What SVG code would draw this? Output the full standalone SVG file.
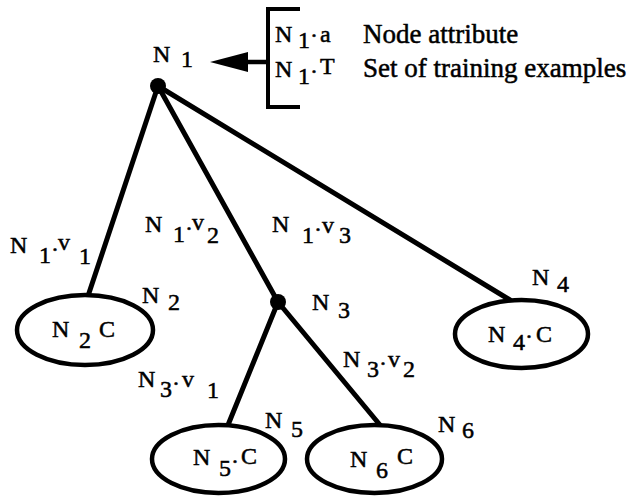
<svg xmlns="http://www.w3.org/2000/svg" width="627" height="497" viewBox="0 0 627 497">
<style>
.t{font-family:"Liberation Serif","Times New Roman",serif;font-size:24px;fill:#000;stroke:#000;stroke-width:0.5}
.big{font-size:27px}
.e{fill:#fff;stroke:#000;stroke-width:4.5}
.c line{stroke:#000;stroke-width:5;stroke-linecap:round}
.dot{fill:#000}
</style>
<rect width="627" height="497" fill="#fff"/>
<g id="connectors" class="c">
<line x1="158" y1="86" x2="88" y2="296"/>
<line x1="158" y1="86" x2="278" y2="302"/>
<line x1="158" y1="86" x2="510" y2="300"/>
<line x1="278" y1="302" x2="228" y2="425"/>
<line x1="278" y1="302" x2="380" y2="425"/>
</g>
<g id="legend">
<path d="M300 9 H268 V107 H300" fill="none" stroke="#000" stroke-width="4"/>
<line x1="268" y1="62" x2="240" y2="62" stroke="#000" stroke-width="4.5"/>
<polygon points="210,62 248,52 248,72" fill="#000"/>
<text class="t"><tspan x="275" y="42">N</tspan><tspan x="298" y="48">1</tspan><tspan x="310" y="43">·</tspan><tspan x="320" y="42">a</tspan></text>
<text class="t big" x="363" y="43">Node attribute</text>
<text class="t"><tspan x="275" y="77">N</tspan><tspan x="298" y="84">1</tspan><tspan x="310" y="79">·</tspan><tspan x="320" y="74">T</tspan></text>
<text class="t big" x="363" y="77">Set of training examples</text>
</g>
<g id="n1">
<circle class="dot" cx="158" cy="86" r="8"/>
<text class="t"><tspan x="153" y="62">N</tspan><tspan x="181" y="67">1</tspan></text>
</g>
<g id="n2">
<ellipse class="e" cx="85" cy="330" rx="68" ry="35"/>
<text class="t"><tspan x="52" y="337">N</tspan><tspan x="79" y="348">2</tspan><tspan x="99" y="337">C</tspan></text>
<text class="t"><tspan x="142" y="303">N</tspan><tspan x="168" y="310">2</tspan></text>
</g>
<g id="n3">
<circle class="dot" cx="278" cy="302" r="8"/>
<text class="t"><tspan x="312" y="310">N</tspan><tspan x="338" y="318">3</tspan></text>
</g>
<g id="n4">
<ellipse class="e" cx="521.5" cy="334" rx="66.5" ry="34"/>
<text class="t"><tspan x="488" y="342">N</tspan><tspan x="513" y="350">4</tspan><tspan x="525" y="344">·</tspan><tspan x="536" y="342">C</tspan></text>
<text class="t"><tspan x="532" y="285">N</tspan><tspan x="557" y="292">4</tspan></text>
</g>
<g id="n5">
<ellipse class="e" cx="218.5" cy="459" rx="66.5" ry="34"/>
<text class="t"><tspan x="193" y="465">N</tspan><tspan x="219" y="476">5</tspan><tspan x="231" y="469">·</tspan><tspan x="241" y="464">C</tspan></text>
<text class="t"><tspan x="265" y="428">N</tspan><tspan x="291" y="437">5</tspan></text>
</g>
<g id="n6">
<ellipse class="e" cx="374.5" cy="459" rx="67.5" ry="34"/>
<text class="t"><tspan x="350" y="467">N</tspan><tspan x="376" y="478">6</tspan><tspan x="397" y="464">C</tspan></text>
<text class="t"><tspan x="438" y="432">N</tspan><tspan x="462" y="438">6</tspan></text>
</g>
<g id="edge-labels">
<text class="t"><tspan x="10" y="253">N</tspan><tspan x="39" y="263">1</tspan><tspan x="51" y="257">·</tspan><tspan x="58" y="250">v</tspan><tspan x="79" y="264">1</tspan></text>
<text class="t"><tspan x="145" y="232">N</tspan><tspan x="173" y="242">1</tspan><tspan x="185" y="236">·</tspan><tspan x="192" y="230">v</tspan><tspan x="207" y="243">2</tspan></text>
<text class="t"><tspan x="272" y="232">N</tspan><tspan x="302" y="243">1</tspan><tspan x="314" y="237">·</tspan><tspan x="322" y="233">v</tspan><tspan x="339" y="243">3</tspan></text>
<text class="t"><tspan x="138" y="387">N</tspan><tspan x="160" y="397">3</tspan><tspan x="172" y="391">·</tspan><tspan x="182" y="387">v</tspan><tspan x="207" y="398">1</tspan></text>
<text class="t"><tspan x="343" y="367">N</tspan><tspan x="367" y="377">3</tspan><tspan x="379" y="371">·</tspan><tspan x="388" y="367">v</tspan><tspan x="403" y="377">2</tspan></text>
</g>
</svg>
